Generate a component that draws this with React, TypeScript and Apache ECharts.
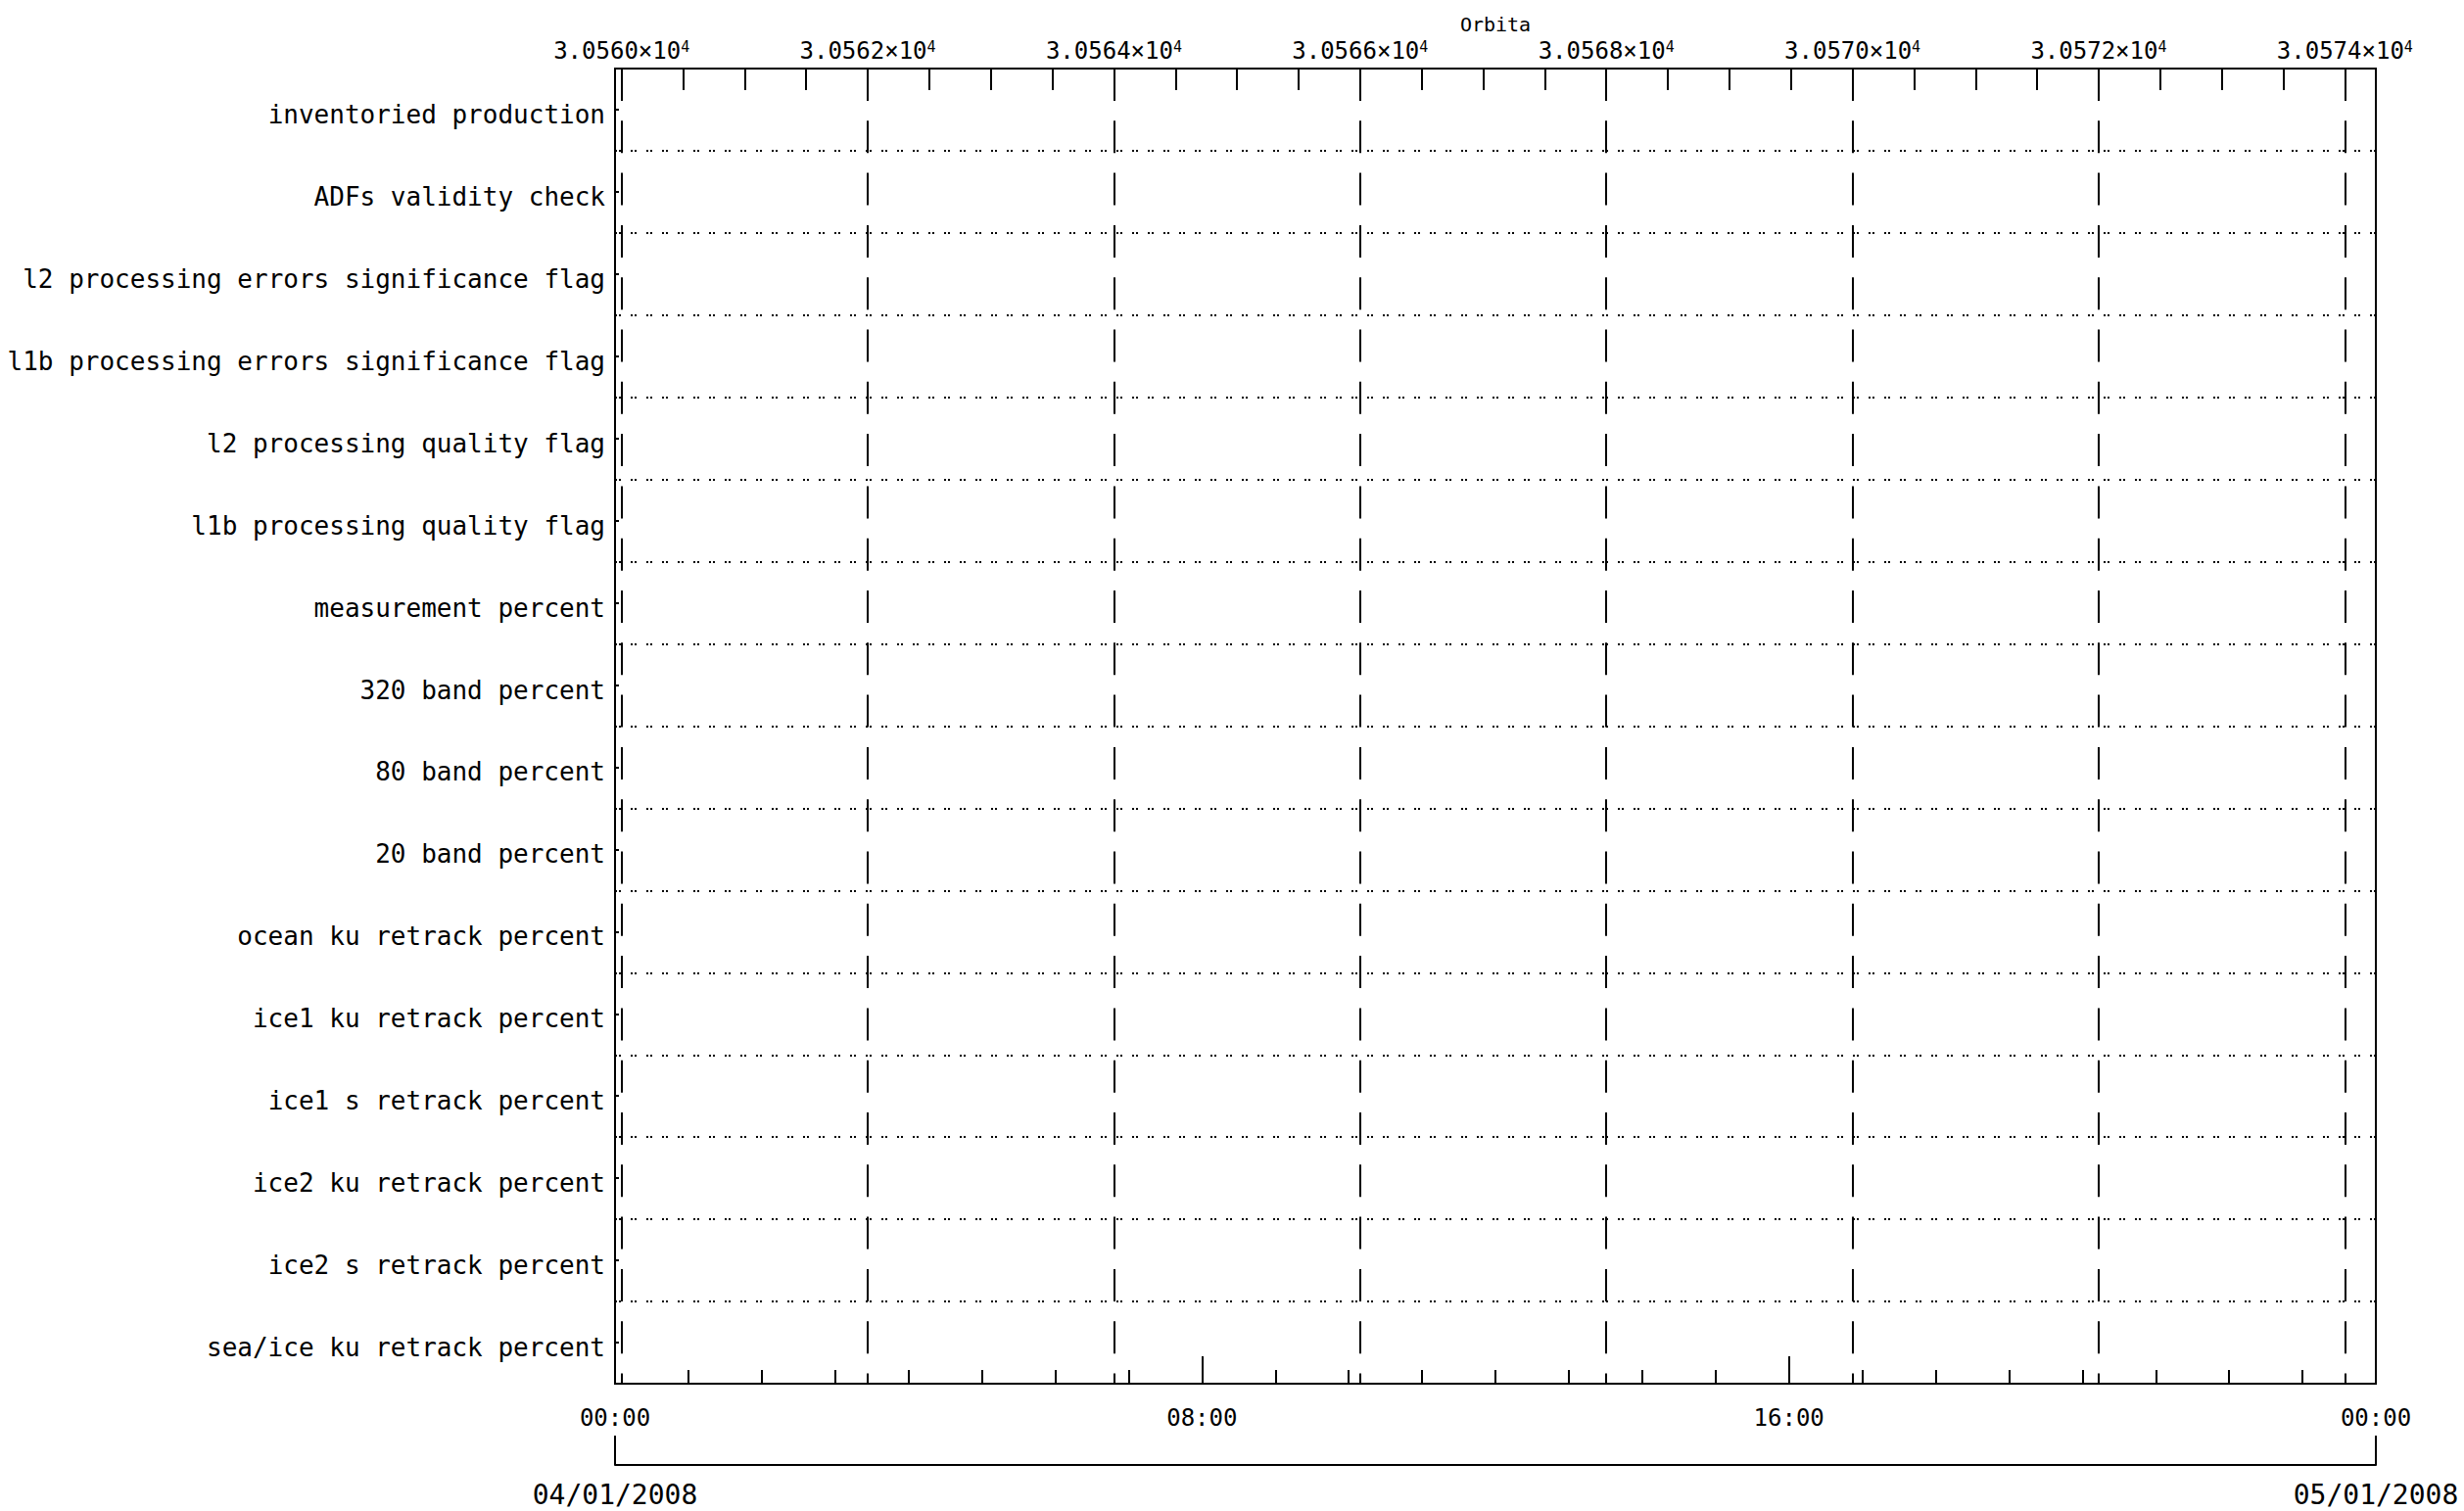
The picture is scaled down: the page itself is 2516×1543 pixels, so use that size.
import React, { useEffect, useRef } from "react";
import * as echarts from "echarts";

const categories = [
  "inventoried production",
  "ADFs validity check",
  "l2 processing errors significance flag",
  "l1b processing errors significance flag",
  "l2 processing quality flag",
  "l1b processing quality flag",
  "measurement percent",
  "320 band percent",
  "80 band percent",
  "20 band percent",
  "ocean ku retrack percent",
  "ice1 ku retrack percent",
  "ice1 s retrack percent",
  "ice2 ku retrack percent",
  "ice2 s retrack percent",
  "sea/ice ku retrack percent",
];

// Orbit (top) axis
const orbitMin = 30559.947;
const orbitMax = 30574.252;
const orbitMajorTicks = [30560, 30562, 30564, 30566, 30568, 30570, 30572, 30574];
const orbitMinorTicks = [
  30560.5, 30561, 30561.5, 30562.5, 30563, 30563.5, 30564.5, 30565, 30565.5,
  30566.5, 30567, 30567.5, 30568.5, 30569, 30569.5, 30570.5, 30571, 30571.5,
  30572.5, 30573, 30573.5,
];

// Time (bottom) axis, hours since 04/01/2008 00:00
const hourMin = 0;
const hourMax = 24;
const timeLabels = ["00:00", "08:00", "16:00", "00:00"];
const dateLabels = ["04/01/2008", "05/01/2008"];

const FONT = "DejaVu Sans Mono";
const BLACK = "#000";

export default function App() {
  const ref = useRef<HTMLDivElement>(null);

  useEffect(() => {
    if (!ref.current) return;
    const chart = echarts.init(ref.current, null, { renderer: "svg" });

    const option: any = {
      animation: false,
      backgroundColor: "#fff",
      grid: {
        left: 628,
        top: 70,
        width: 1798,
        height: 1343,
        show: true,
        borderColor: BLACK,
        borderWidth: 2,
        backgroundColor: "transparent",
      },
      xAxis: [
        {
          // hourly minor ticks
          type: "value",
          position: "bottom",
          min: hourMin,
          max: hourMax,
          interval: 1,
          axisLine: { show: false },
          axisTick: { show: true, inside: true, length: 14, lineStyle: { color: BLACK, width: 2 } },
          axisLabel: { show: false },
          splitLine: { show: false },
        },
        {
          // 8-hour major ticks with labels
          type: "value",
          position: "bottom",
          min: hourMin,
          max: hourMax,
          interval: 8,
          axisLine: { show: false },
          axisTick: { show: true, inside: true, length: 28, lineStyle: { color: BLACK, width: 2 } },
          axisLabel: {
            show: true,
            margin: 23,
            showMinLabel: true,
            showMaxLabel: true,
            fontFamily: FONT,
            fontSize: 24,
            color: BLACK,
            formatter: (v: number) => timeLabels[Math.round(v / 8)],
          },
          splitLine: { show: false },
        },
        {
          // orbit major ticks, labels and dashed verticals
          type: "value",
          position: "top",
          min: orbitMin,
          max: orbitMax,
          name: "Orbita",
          nameLocation: "middle",
          nameGap: 35,
          nameTextStyle: { fontFamily: FONT, fontSize: 20, color: BLACK },
          axisLine: { show: false },
          axisTick: {
            show: true,
            inside: true,
            length: 33,
            customValues: orbitMajorTicks,
            lineStyle: { color: BLACK, width: 2 },
          },
          axisLabel: {
            show: true,
            customValues: orbitMajorTicks,
            margin: 6,
            color: BLACK,
            formatter: (v: number) => `{a|${(v / 10000).toFixed(4)}×10}{s|4}`,
            rich: {
              a: { fontFamily: FONT, fontSize: 24, color: BLACK },
              s: { fontFamily: FONT, fontSize: 15, color: BLACK, verticalAlign: "top" },
            },
          },
          splitLine: {
            show: true,
            lineStyle: { color: BLACK, width: 2, type: [33, 20.3] },
          },
        },
        {
          // orbit minor ticks
          type: "value",
          position: "top",
          min: orbitMin,
          max: orbitMax,
          axisLine: { show: false },
          axisTick: {
            show: true,
            inside: true,
            length: 22,
            customValues: orbitMinorTicks,
            lineStyle: { color: BLACK, width: 2 },
          },
          axisLabel: { show: false },
          splitLine: { show: false },
        },
        {
          // date bracket
          type: "value",
          position: "bottom",
          offset: 83,
          min: hourMin,
          max: hourMax,
          interval: 24,
          axisLine: { show: true, lineStyle: { color: BLACK, width: 2 } },
          axisTick: { show: true, inside: true, length: 30, lineStyle: { color: BLACK, width: 2 } },
          axisLabel: {
            show: true,
            margin: 16,
            showMinLabel: true,
            showMaxLabel: true,
            fontFamily: FONT,
            fontSize: 28,
            color: BLACK,
            formatter: (v: number) => (v <= hourMin ? dateLabels[0] : dateLabels[1]),
          },
          splitLine: { show: false },
        },
      ],
      yAxis: {
        type: "category",
        inverse: true,
        data: categories,
        axisLine: { show: false },
        axisTick: {
          show: true,
          inside: true,
          length: 4,
          alignWithLabel: true,
          interval: 0,
          lineStyle: { color: BLACK, width: 2 },
        },
        axisLabel: {
          show: true,
          interval: 0,
          margin: 10,
          verticalAlign: "top",
          lineHeight: 10,
          fontFamily: FONT,
          fontSize: 26,
          color: BLACK,
        },
        splitLine: {
          show: true,
          interval: 0,
          lineStyle: { color: BLACK, width: 2, type: [2, 2, 2, 10] },
        },
      },
      series: [
        {
          type: "scatter",
          xAxisIndex: 0,
          yAxisIndex: 0,
          data: [],
        },
      ],
    };

    chart.setOption(option);
    return () => chart.dispose();
  }, []);

  return (
    <div
      ref={ref}
      style={{ position: "absolute", left: 0, top: 0, width: 2516, height: 1543, background: "#fff" }}
    />
  );
}
